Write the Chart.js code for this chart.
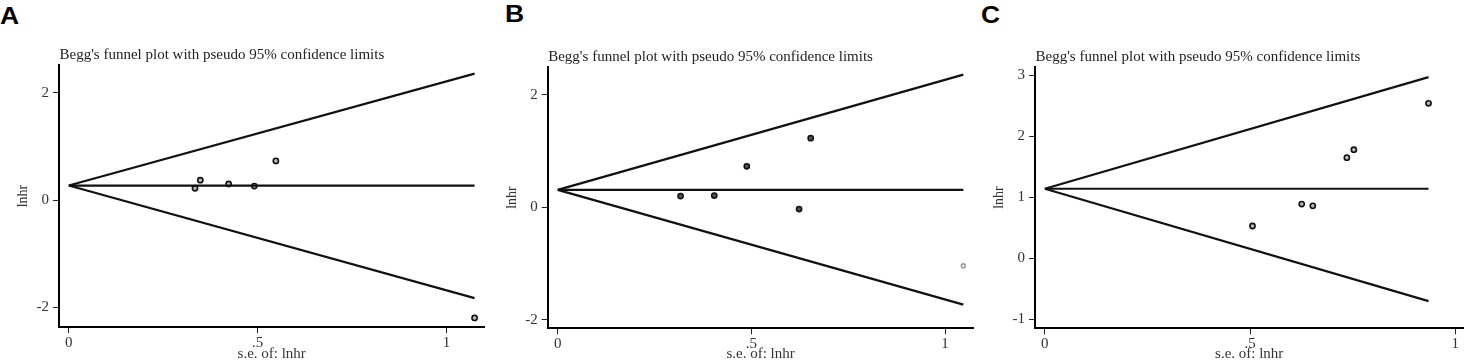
<!DOCTYPE html>
<html>
<head>
<meta charset="utf-8">
<script src="https://cdn.jsdelivr.net/npm/chart.js@4.4.1/dist/chart.umd.min.js"></script>
<style>
  body { margin: 0; background: #fff; }
  #wrap { position: relative; width: 1469px; height: 364px; overflow: hidden; }
  canvas { position: absolute; top: 0; }
  .letter { position: absolute; font: bold 23px "Liberation Sans", Arial, sans-serif; line-height: 23px; color: #000; transform: scaleX(1.15); transform-origin: left top; }
</style>
</head>
<body>
<div id="wrap">
  <div class="letter" style="left:0px;top:5px">A</div>
  <div class="letter" style="left:505px;top:3px">B</div>
  <div class="letter" style="left:981px;top:4px">C</div>
  <canvas id="chartA" width="490" height="364" style="left:0px"></canvas>
  <canvas id="chartB" width="489" height="364" style="left:490px"></canvas>
  <canvas id="chartC" width="490" height="364" style="left:979px"></canvas>
</div>
<script>
const plotTitle = "Begg's funnel plot with pseudo 95% confidence limits";
const xTitle = "s.e. of: lnhr";
const yTitle = "lnhr";
const xTicks = [0, 0.5, 1];
const xTickLabels = ["0", ".5", "1"];

// panel A
const aSe = [0.334, 0.348, 0.423, 0.491, 0.548, 1.074];
const aLnhr = [0.22, 0.37, 0.30, 0.26, 0.73, -2.20];
const aLimitSe = [0, 1.074];
const aUpper = [0.27, 2.36];
const aLower = [0.27, -1.83];
const aMid = [0.27, 0.27];
const aYTicks = [-2, 0, 2];

// panel B
const bSe = [0.317, 0.404, 0.488, 0.623, 0.653];
const bLnhr = [0.20, 0.21, 0.73, -0.03, 1.23];
const bGreySe = [1.047];
const bGreyLnhr = [-1.04];
const bLimitSe = [0, 1.047];
const bUpper = [0.31, 2.36];
const bLower = [0.31, -1.73];
const bMid = [0.31, 0.31];
const bYTicks = [-2, 0, 2];

// panel C
const cSe = [0.506, 0.626, 0.653, 0.736, 0.753, 0.935];
const cLnhr = [0.53, 0.89, 0.86, 1.65, 1.78, 2.54];
const cLimitSe = [0, 0.935];
const cUpper = [1.14, 2.97];
const cLower = [1.14, -0.70];
const cMid = [1.14, 1.14];
const cYTicks = [-1, 0, 1, 2, 3];

const toPoints = (xs, ys) => xs.map((x, i) => ({ x: x, y: ys[i] }));

const lineSet = (xs, ys) => ({
  data: toPoints(xs, ys),
  showLine: true,
  pointRadius: 0,
  borderColor: "#111",
  borderWidth: 2.2,
});

const dotSet = (xs, ys, color, fill, r) => ({
  data: toPoints(xs, ys),
  showLine: false,
  pointRadius: r,
  pointBorderWidth: 1.6,
  pointBorderColor: color,
  pointBackgroundColor: fill,
});

// draws the plot title above the plot area, left aligned like Stata
const titlePlugin = {
  id: "stataTitle",
  afterDraw(chart) {
    const { ctx, chartArea } = chart;
    ctx.save();
    ctx.font = '15px "Liberation Serif", "Times New Roman", serif';
    ctx.fillStyle = "#222";
    ctx.textAlign = "left";
    ctx.textBaseline = "alphabetic";
    ctx.fillText(plotTitle, chartArea.left + 0.5, chartArea.top - 6);
    ctx.restore();
  },
};

const makeFunnel = (id, p) => {
  const ctx = document.getElementById(id).getContext("2d");
  const serif = '"Liberation Serif", "Times New Roman", serif';
  return new Chart(ctx, {
    type: "scatter",
    data: { datasets: p.datasets },
    options: {
      responsive: false,
      animation: false,
      layout: { padding: { left: 0, right: p.padRight, top: p.top, bottom: 0 } },
      plugins: { legend: { display: false }, tooltip: { enabled: false } },
      scales: {
        x: {
          type: "linear",
          min: p.xMin,
          max: p.xMax,
          afterFit: (scale) => { scale.height = 364 - p.bottom; },
          afterBuildTicks: (scale) => { scale.ticks = xTicks.map((v) => ({ value: v })); },
          grid: { display: true, drawOnChartArea: false, drawTicks: true, tickLength: 6, color: "#222", lineWidth: 1 },
          border: { display: true, color: "#000", width: 2 },
          ticks: {
            color: "#333",
            padding: 1,
            maxRotation: 0,
            font: { family: serif, size: 15 },
            callback: (v) => xTickLabels[xTicks.indexOf(v)],
          },
          title: {
            display: true,
            text: xTitle,
            color: "#333",
            font: { family: serif, size: 15 },
            padding: { top: 0, bottom: 1 },
          },
        },
        y: {
          type: "linear",
          min: p.yMin,
          max: p.yMax,
          afterFit: (scale) => { scale.width = p.left; },
          afterBuildTicks: (scale) => { scale.ticks = p.yTicks.map((v) => ({ value: v })); },
          grid: { display: true, drawOnChartArea: false, drawTicks: true, tickLength: 6, color: "#222", lineWidth: 1 },
          border: { display: true, color: "#000", width: 2 },
          ticks: {
            color: "#333",
            padding: 4,
            font: { family: serif, size: 15 },
            callback: (v) => String(v),
          },
          title: {
            display: true,
            text: yTitle,
            color: "#333",
            font: { family: serif, size: 14 },
            padding: { top: p.yTitlePad, bottom: 0 },
          },
        },
      },
    },
    plugins: [titlePlugin],
  });
};

makeFunnel("chartA", {
  left: 59, padRight: 2, top: 65, bottom: 327,
  xMin: -0.026, xMax: 1.10, yMin: -2.37, yMax: 2.52,
  yTicks: aYTicks, yTitlePad: 14.5,
  datasets: [
    lineSet(aLimitSe, aUpper),
    lineSet(aLimitSe, aLower),
    lineSet(aLimitSe, aMid),
    dotSet(aSe, aLnhr, "#111", "#bbb", 2.6),
  ],
});

makeFunnel("chartB", {
  left: 57.7, padRight: 2.3, top: 66.7, bottom: 328.3,
  xMin: -0.026, xMax: 1.073, yMin: -2.15, yMax: 2.50,
  yTicks: bYTicks, yTitlePad: 13.5,
  datasets: [
    lineSet(bLimitSe, bUpper),
    lineSet(bLimitSe, bLower),
    lineSet(bLimitSe, bMid),
    dotSet(bSe, bLnhr, "#111", "#555", 2.6),
    dotSet(bGreySe, bGreyLnhr, "#999", "#fff", 2),
  ],
});

makeFunnel("chartC", {
  left: 56, padRight: 5, top: 66.7, bottom: 328.3,
  xMin: -0.024, xMax: 1.02, yMin: -1.146, yMax: 3.14,
  yTicks: cYTicks, yTitlePad: 11.5,
  datasets: [
    lineSet(cLimitSe, cUpper),
    lineSet(cLimitSe, cLower),
    lineSet(cLimitSe, cMid),
    dotSet(cSe, cLnhr, "#111", "#bbb", 2.6),
  ],
});
</script>
</body>
</html>
